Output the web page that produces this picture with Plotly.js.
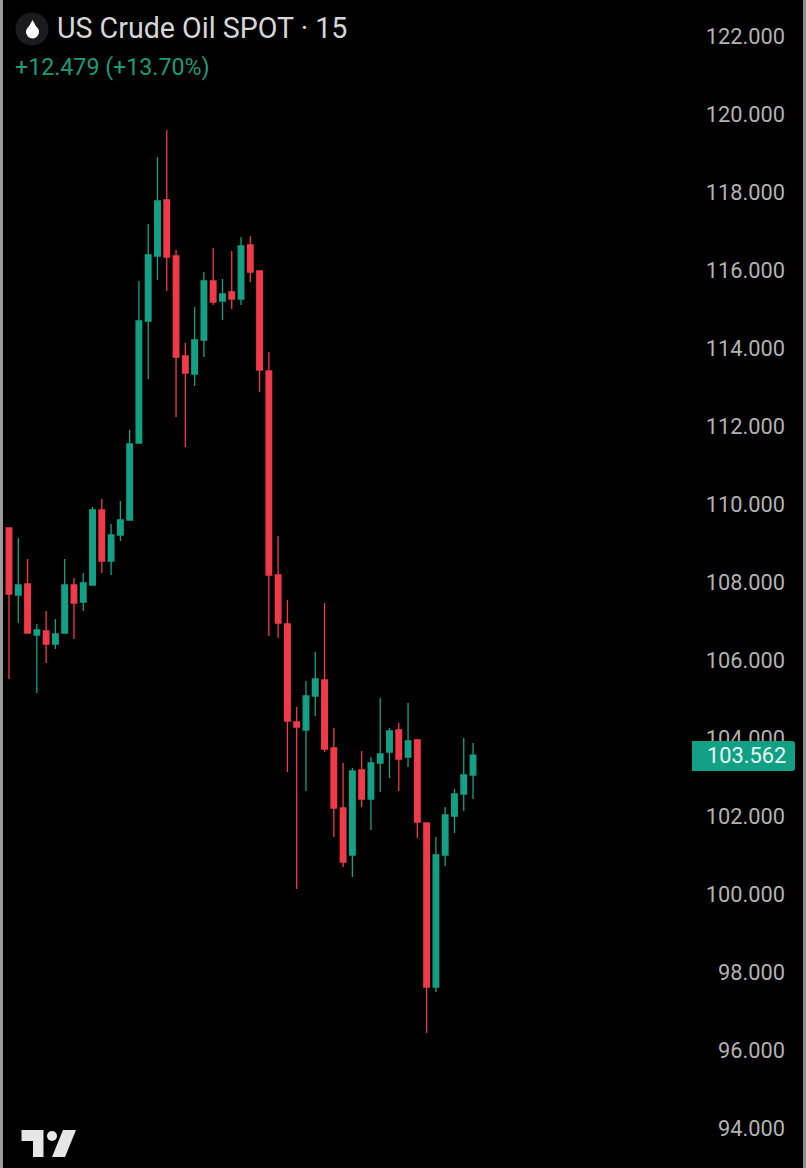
<!DOCTYPE html>
<html><head><meta charset="utf-8">
<script src="https://cdn.plot.ly/plotly-3.0.1.min.js"></script>
<style>html,body{margin:0;padding:0;background:#000;overflow:hidden}#c{width:806px;height:1168px}</style>
</head><body><div id="c"></div>
<script>
const bars = Array.from({length:51},(_, i)=>i);
const open = [109.385,107.667,107.949,106.641,106.744,106.41,106.692,107.923,107.487,107.923,109.846,108.538,109.205,109.59,111.564,114.692,116.359,117.795,116.359,113.795,113.333,114.205,115.718,115.205,115.436,115.256,116.641,115.974,113.41,108.179,106.923,104.41,104.205,105.077,105.487,103.744,102.205,101.0,103.179,102.436,103.359,103.641,104.205,103.513,103.949,101.82,97.615,101.0,102.0,102.564,103.051];
const high = [109.385,109.128,108.59,106.923,107.256,107.051,108.59,108.102,108.231,109.923,110.128,109.487,110.077,111.897,115.718,117.179,118.897,119.59,116.513,114.128,115.051,115.949,116.564,115.769,116.487,116.846,116.872,116.0,113.897,109.179,107.538,104.795,105.461,106.205,107.461,104.256,103.359,103.231,103.667,103.513,105.026,104.256,104.385,104.897,103.974,101.82,101.461,102.231,102.692,104.0,103.872];
const low = [105.513,106.949,106.692,105.154,105.923,106.282,106.692,106.538,107.256,107.923,108.231,108.179,109.051,109.59,111.564,113.205,115.744,115.461,112.231,111.461,113.026,113.769,115.102,114.718,115.0,115.102,115.692,112.872,106.615,106.564,103.128,100.128,102.641,104.564,103.641,101.461,100.692,100.436,102.231,101.641,102.615,102.974,102.641,103.256,101.436,96.436,97.487,100.718,101.564,102.128,102.436];
const close = [107.692,107.923,106.692,106.769,106.41,106.667,107.923,107.461,107.974,109.846,108.538,109.205,109.59,111.538,114.692,116.385,117.769,116.333,113.769,113.359,114.205,115.718,115.179,115.385,115.256,116.615,115.949,113.436,108.179,106.949,104.436,104.282,105.077,105.513,103.718,102.205,100.82,103.154,102.436,103.359,103.59,104.179,103.461,103.923,101.846,97.615,101.0,102.026,102.564,103.051,103.562];
const priceTicks = [94,96,98,100,102,104,106,108,110,112,114,116,118,120,122];
const symbolTitle = "US Crude Oil SPOT · 15";
const changeText = "+12.479 (+13.70%)";
const lastPrice = 103.562;

const W=806,H=1168,R=18;
const PW=W-R;
const px=x=>x/PW;
const py=y=>1-y/H;
const rect=(x0,y0,x1,y1,c)=>({type:'rect',xref:'paper',yref:'paper',x0:px(x0),x1:px(x1),y0:py(y0),y1:py(y1),fillcolor:c,line:{width:0},layer:'above'});
const poly=(pts,c)=>({type:'path',xref:'paper',yref:'paper',fillcolor:c,line:{width:0},layer:'above',
  path:'M'+pts.map(p=>px(p[0])+' '+py(p[1])).join(' L')+' Z'});
const circ=(cx,cy,r,c)=>({type:'circle',xref:'paper',yref:'paper',x0:px(cx-r),x1:px(cx+r),y0:py(cy+r),y1:py(cy-r),fillcolor:c,line:{width:0},layer:'above'});
const P=(x,y)=>px(x)+' '+py(y);
const tag=(x0,y0,x1,y1,r,c)=>({type:'path',xref:'paper',yref:'paper',fillcolor:c,line:{width:0},layer:'above',
  path:'M'+P(x0,y0)+' L'+P(x1-r,y0)+' Q'+P(x1,y0)+' '+P(x1,y0+r)+' L'+P(x1,y1-r)+' Q'+P(x1,y1)+' '+P(x1-r,y1)+' L'+P(x0,y1)+' Z'});

const shapes=[
  rect(0,0,3,H,'#9a9a9a'),
  rect(803,0,W,H,'#8c8c8c'),
  circ(32,29,16.5,'#1b1b1f'),
  circ(32.5,32,6.5,'#ffffff'),
  poly([[32.5,20],[37,28],[28,28]],'#ffffff'),
  poly([[21.5,1130],[43.5,1130],[43.5,1157],[33,1157],[33,1141],[21.5,1141]],'#e6e6e6'),
  circ(52,1136,5,'#e6e6e6'),
  poly([[63,1130],[76,1130],[65,1157],[52,1157]],'#e6e6e6'),
  tag(692,741,795,771,3,'#12a085')
];

const annotations=[
  {xref:'paper',yref:'paper',x:px(54.5),y:py(28),xanchor:'left',yanchor:'middle',showarrow:false,text:symbolTitle,
   font:{family:'Roboto',size:28.6,color:'#d6d6d6'}},
  {xref:'paper',yref:'paper',x:px(13),y:py(67),xanchor:'left',yanchor:'middle',showarrow:false,text:changeText,
   font:{family:'Roboto',size:23.2,color:'#1f9a78'}},
  {xref:'paper',yref:'y',x:px(788),y:lastPrice,xanchor:'right',yanchor:'middle',showarrow:false,text:String(lastPrice),
   font:{family:'Roboto',size:21.8,color:'#e8f8f4'}}
];

Plotly.newPlot('c',[{
  type:'candlestick',x:bars,open,high,low,close,
  increasing:{line:{color:'#13a085',width:1.3},fillcolor:'#13a085'},
  decreasing:{line:{color:'#f03a4a',width:1.3},fillcolor:'#f03a4a'},
  whiskerwidth:0,hoverinfo:'skip'
}],{
  width:W,height:H,showlegend:false,paper_bgcolor:'#000',plot_bgcolor:'#000',
  margin:{l:0,r:R,t:0,b:0,pad:0},boxgap:0.14,
  xaxis:{range:[-0.97,83.94],visible:false,rangeslider:{visible:false},fixedrange:true},
  yaxis:{side:'right',range:[92.974,122.923],tickvals:priceTicks,tickformat:'.3f',ticklabelposition:'inside',
    ticks:'',ticklen:0,showgrid:false,zeroline:false,showline:false,
    tickfont:{family:'Roboto',size:21.8,color:'#b2b2b2'},fixedrange:true},
  shapes,annotations
},{staticPlot:true,displayModeBar:false});
</script></body></html>
